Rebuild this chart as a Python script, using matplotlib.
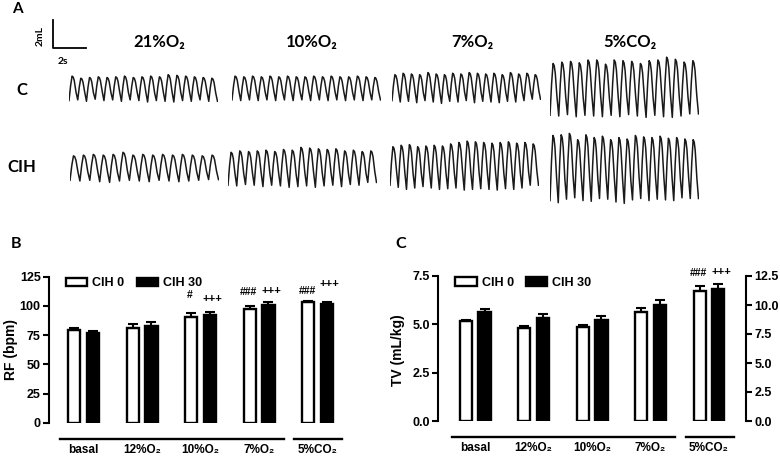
import matplotlib.pyplot as plt
import numpy as np
from matplotlib.patches import Patch

plt.rcParams['font.family'] = ['Liberation Sans', 'DejaVu Sans']
plt.rcParams['font.weight'] = 'bold'
plt.rcParams['axes.labelweight'] = 'bold'

#%% Data - panels B and C
groups = ['basal', '12%O₂', '10%O₂', '7%O₂', '5%CO₂']

rf_cih0 = [79.5, 81.5, 90.5, 97.5, 103.0]
rf_cih0_err = [1.5, 3.0, 3.0, 2.5, 1.5]
rf_cih30 = [77.0, 83.0, 92.0, 101.0, 101.5]
rf_cih30_err = [1.5, 3.5, 2.5, 2.0, 2.0]
rf_sig0 = ['', '', '#', '###', '###']
rf_sig30 = ['', '', '+++', '+++', '+++']
rf_sig0_y = [0, 0, 109.5, 112.0, 112.5]
rf_sig30_y = [0, 0, 106.0, 113.0, 118.5]

tv_cih0 = [5.15, 4.80, 4.88, 5.62, 6.75]
tv_cih0_err = [0.10, 0.10, 0.08, 0.24, 0.22]
tv_cih30 = [5.65, 5.32, 5.22, 5.98, 6.82]
tv_cih30_err = [0.16, 0.20, 0.19, 0.30, 0.27]
tv_sig0 = ['', '', '', '', '###']
tv_sig30 = ['', '', '', '', '+++']
tv_sig0_y = [0, 0, 0, 0, 7.65]
tv_sig30_y = [0, 0, 0, 0, 7.72]

#%% Data - panel A traces (peak / trough volume of each breath, mL)
conditions = ['21%O₂', '10%O₂', '7%O₂', '5%CO₂']
trace_dur = 9.0  # s shown for every trace

c21_pk = [0.85, 0.70, 0.75, 0.80, 0.75, 0.80, 0.85, 0.75, 0.80, 0.85, 0.80, 0.95, 0.90, 0.85, 0.80, 0.75, 0.70]
c21_tr = [-0.90, -0.85, -0.95, -0.80, -0.90, -0.85, -0.95, -0.85, -0.90, -1.00, -0.90, -0.95, -1.00, -0.90, -0.95, -0.85, -0.95]
c10_pk = [0.85, 0.80, 0.85, 0.80, 0.85, 0.80, 0.85, 0.80, 0.80, 0.85, 0.80, 0.85, 0.80, 0.80, 0.85, 0.80, 0.75]
c10_tr = [-0.85, -0.90, -0.85, -0.90, -0.85, -0.90, -0.85, -0.90, -0.85, -0.90, -0.85, -0.90, -0.85, -0.90, -0.85, -0.90, -0.85]
c7_pk = [0.95, 1.05, 1.00, 0.95, 1.10, 1.00, 0.95, 1.05, 1.00, 1.10, 1.05, 1.00, 1.05, 0.95, 1.10, 1.00, 1.05, 0.95]
c7_tr = [-0.90, -1.00, -0.95, -1.05, -0.90, -1.00, -1.10, -0.95, -1.00, -0.90, -1.05, -0.95, -1.00, -1.05, -0.95, -1.00, -0.90, -0.80]
c5_pk = [1.75, 1.85, 1.90, 1.80, 2.00, 2.00, 1.70, 2.00, 1.95, 1.90, 1.75, 1.95, 2.00, 2.20, 2.05, 1.85, 1.95]
c5_tr = [-1.95, -2.00, -1.90, -2.05, -1.95, -2.00, -2.05, -1.95, -2.05, -1.90, -2.00, -2.10, -1.95, -2.05, -2.10, -2.00, -1.85]

h21_pk = [0.80, 0.85, 0.90, 0.85, 0.90, 1.05, 0.85, 0.90, 0.85, 0.90, 0.85, 0.90, 0.85, 0.80, 0.85]
h21_tr = [-0.95, -1.00, -0.95, -1.05, -1.10, -1.00, -0.95, -1.00, -1.05, -0.95, -1.00, -1.05, -1.00, -0.95, -0.90]
h10_pk = [1.05, 1.15, 1.10, 1.15, 1.20, 1.10, 1.25, 1.20, 1.40, 1.35, 1.30, 1.25, 1.30, 1.15, 1.20, 1.10, 1.15]
h10_tr = [-1.30, -1.35, -1.25, -1.30, -1.40, -1.30, -1.35, -1.45, -1.40, -1.35, -1.45, -1.35, -1.30, -1.40, -1.25, -1.30, -1.10]
h7_pk = [1.45, 1.55, 1.60, 1.45, 1.50, 1.55, 1.50, 1.65, 1.75, 1.85, 1.80, 1.75, 1.70, 1.75, 1.80, 1.70, 1.75, 1.65]
h7_tr = [-1.30, -1.45, -1.60, -1.50, -1.40, -1.50, -1.60, -1.55, -1.50, -1.65, -1.60, -1.55, -1.60, -1.65, -1.55, -1.60, -1.50, -1.30]
h5_pk = [2.25, 2.30, 2.40, 1.95, 2.30, 2.10, 2.20, 1.95, 2.10, 2.00, 2.25, 2.15, 2.10, 2.20, 2.05, 2.10, 2.00, 1.95]
h5_tr = [-2.40, -2.55, -2.30, -2.20, -2.40, -2.45, -2.25, -2.30, -2.50, -2.60, -2.35, -2.25, -2.40, -2.30, -2.35, -2.40, -2.20, -2.25]

#%% Layout helpers (pixel positions in a 780x463 figure)
W, H = 780, 463
PX_PER_S = 16.5
PX_PER_ML = 14.0

fig = plt.figure(figsize=(W / 100, H / 100), dpi=100)


def add_px_axes(left, top, width, height):
    return fig.add_axes([left / W, 1 - (top + height) / H, width / W, height / H])


def breath_trace(ax, pk, tr):
    # one breath: sharp trough, rounded top with a small shoulder, quick fall
    T = trace_dur / len(pk)
    shape = [(0.0, 0.0), (0.18, 0.6), (0.35, 1.0), (0.48, 0.96), (0.6, 0.82), (0.8, 0.35)]
    t, v = [], []
    for i in range(len(pk)):
        amp = pk[i] - tr[i]
        for f, h in shape:
            t.append((i + f) * T)
            v.append(tr[i] + h * amp)
    t.append(trace_dur)
    v.append(tr[-1])
    ax.plot(t, v, color='#1a1a1a', lw=1.1)


#%% Panel A
fig.text(17 / W, 1 - 9 / H, 'A', family=['Lato', 'DejaVu Sans'], fontsize=11,
         weight='bold', ha='center', va='center')

# scale bar 2 s x 2 mL
sb = add_px_axes(53, 20, 2 * PX_PER_S, 2 * PX_PER_ML)
sb.plot([0, 0, 2], [2, 0, 0], color='black', lw=1.3, clip_on=False)
sb.set_xlim(0, 2)
sb.set_ylim(0, 2)
sb.axis('off')
fig.text(40 / W, 1 - 36 / H, '2mL', family=['Lato', 'DejaVu Sans'], fontsize=7.5,
         weight='bold', rotation=90, ha='center', va='center')
fig.text(63 / W, 1 - 62 / H, '2s', family=['Lato', 'DejaVu Sans'], fontsize=7.5,
         weight='bold', ha='center', va='center')

title_x = [159, 312, 472, 630]
for name, xc in zip(conditions, title_x):
    fig.text(xc / W, 1 - 42 / H, name, family=['Lato', 'DejaVu Sans'], fontsize=12,
             weight='bold', ha='center', va='center')

fig.text(22 / W, 1 - 90 / H, 'C', family=['Lato', 'DejaVu Sans'], fontsize=12,
         weight='bold', ha='center', va='center')
fig.text(22 / W, 1 - 167 / H, 'CIH', family=['Lato', 'DejaVu Sans'], fontsize=12,
         weight='bold', ha='center', va='center')

rows = [
    (88, [69, 232, 392, 550], [(c21_pk, c21_tr), (c10_pk, c10_tr), (c7_pk, c7_tr), (c5_pk, c5_tr)]),
    (167, [70, 228, 390, 550], [(h21_pk, h21_tr), (h10_pk, h10_tr), (h7_pk, h7_tr), (h5_pk, h5_tr)]),
]
box_h = 90
for yc, xs, traces in rows:
    for x0, (pk, tr) in zip(xs, traces):
        ax = add_px_axes(x0, yc - box_h / 2, trace_dur * PX_PER_S, box_h)
        breath_trace(ax, pk, tr)
        ax.set_xlim(0, trace_dur)
        half = box_h / 2 / PX_PER_ML
        ax.set_ylim(-half, half)
        ax.axis('off')


#%% Panels B and C
def bar_panel(ax, v0, e0, v1, e1, s0, s0y, s1, s1y, ylim, yticks, fmt):
    x = np.arange(len(groups))
    off, bw = 0.16, 0.21
    ax.bar(x - off, v0, width=bw, color='white', edgecolor='black', lw=1.7, zorder=2)
    ax.bar(x + off, v1, width=bw, color='black', edgecolor='black', lw=1.7, zorder=2)
    ax.errorbar(x - off, v0, yerr=[np.zeros(len(x)), e0], fmt='none', ecolor='black',
                elinewidth=1.5, capsize=3.5, capthick=1.5, zorder=3)
    ax.errorbar(x + off, v1, yerr=[np.zeros(len(x)), e1], fmt='none', ecolor='black',
                elinewidth=1.5, capsize=3.5, capthick=1.5, zorder=3)
    for i in range(len(x)):
        if s0[i]:
            ax.text(x[i] - off - 0.02, s0y[i], s0[i], fontsize=7.5, weight='bold',
                    ha='center', va='center')
        if s1[i]:
            ax.text(x[i] + off + 0.05, s1y[i], s1[i], fontsize=8, weight='bold',
                    ha='center', va='center')
    ax.set_ylim(*ylim)
    ax.set_yticks(yticks)
    ax.yaxis.set_major_formatter(plt.FormatStrFormatter(fmt))
    ax.set_xticks(x, groups, fontweight='bold')
    ax.tick_params(axis='x', length=0, pad=15, labelsize=8.5)
    ax.tick_params(axis='y', direction='out', length=4, width=1.5, labelsize=9, pad=2)
    for lbl in ax.get_yticklabels():
        lbl.set_fontweight('bold')
    for side in ['top', 'right', 'bottom']:
        ax.spines[side].set_visible(False)
    ax.spines['left'].set_linewidth(1.5)
    # bracket lines under the groups
    tr = ax.get_xaxis_transform()
    for a, b in [(0, 3), (4, 4)]:
        ax.plot([a - 0.4, b + 0.42], [-0.11, -0.11], transform=tr, color='black',
                lw=1.7, clip_on=False)
    ax.legend(handles=[Patch(facecolor='white', edgecolor='black', lw=1.7),
                       Patch(facecolor='black', edgecolor='black', lw=1.7)],
              labels=['CIH 0', 'CIH 30'], ncol=2, loc='center left',
              bbox_to_anchor=(0.04, 0.955), frameon=False, borderaxespad=0,
              handlelength=1.7, handleheight=0.7, handletextpad=0.4,
              columnspacing=1.0, prop={'size': 9, 'weight': 'bold'})
    return ax


# B
axB = add_px_axes(49, 276.7, 303.6, 146)
axB.set_xlim(-0.59, 4.6)
bar_panel(axB, rf_cih0, rf_cih0_err, rf_cih30, rf_cih30_err,
          rf_sig0, rf_sig0_y, rf_sig30, rf_sig30_y, (0, 125), [0, 25, 50, 75, 100, 125], '%d')
fig.text(11 / W, 1 - 350 / H, 'RF (bpm)', fontsize=10, weight='bold', rotation=90,
         ha='center', va='center')
fig.text(16 / W, 1 - 244 / H, 'B', family=['Lato', 'DejaVu Sans'], fontsize=11.5,
         weight='bold', ha='center', va='center')

# C
axC = add_px_axes(438, 276, 308, 145)
axC.set_xlim(-0.637, 4.633)
bar_panel(axC, tv_cih0, tv_cih0_err, tv_cih30, tv_cih30_err,
          tv_sig0, tv_sig0_y, tv_sig30, tv_sig30_y, (0, 7.5), [0, 2.5, 5.0, 7.5], '%.1f')
axC2 = axC.twinx()
axC2.set_ylim(0, 12.5)
axC2.set_yticks([0, 2.5, 5.0, 7.5, 10.0, 12.5])
axC2.yaxis.set_major_formatter(plt.FormatStrFormatter('%.1f'))
axC2.tick_params(axis='y', direction='out', length=4, width=1.5, labelsize=9, pad=2)
for lbl in axC2.get_yticklabels():
    lbl.set_fontweight('bold')
for side in ['top', 'left', 'bottom']:
    axC2.spines[side].set_visible(False)
axC2.spines['right'].set_linewidth(1.5)
fig.text(398 / W, 1 - 350 / H, 'TV (mL/kg)', fontsize=10, weight='bold', rotation=90,
         ha='center', va='center')
fig.text(401 / W, 1 - 244 / H, 'C', family=['Lato', 'DejaVu Sans'], fontsize=11.5,
         weight='bold', ha='center', va='center')

plt.savefig('out.png', dpi=100)
